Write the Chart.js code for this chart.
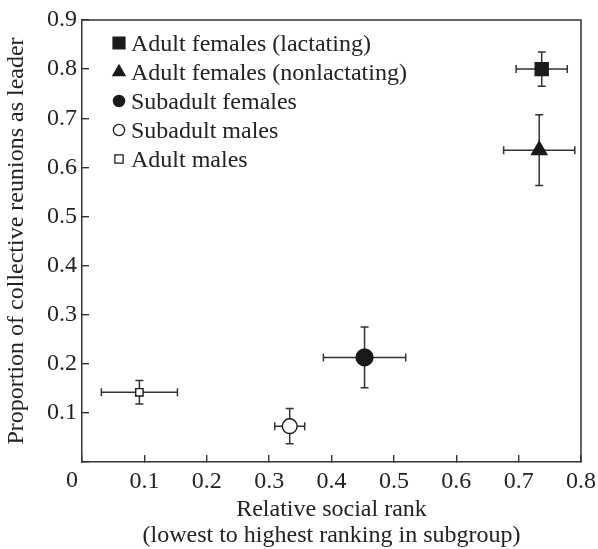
<!DOCTYPE html>
<html lang="en">
<head>
  <meta charset="UTF-8" />
  <title>Leadership vs social rank</title>
  <script src="https://cdn.jsdelivr.net/npm/chart.js"></script>
  <style>
    body {
      margin: 0;
      padding: 0;
      background: #ffffff;
    }
    canvas {
      display: block;
    }
  </style>
</head>
<body>
  <canvas id="rankChart" width="598" height="549"></canvas>

  <script>
    // one entry per subgroup: mean rank / mean proportion with error half-widths
    const groups = [
      'Adult females (lactating)',
      'Adult females (nonlactating)',
      'Subadult females',
      'Subadult males',
      'Adult males'
    ];
    const rankX = [0.737, 0.733, 0.453, 0.333, 0.092];
    const rankErr = [0.041, 0.057, 0.066, 0.024, 0.061];
    const leaderY = [0.800, 0.635, 0.213, 0.073, 0.142];
    const leaderErr = [0.035, 0.072, 0.062, 0.036, 0.024];

    const markerStyle = ['rect', 'triangle', 'circle', 'circle', 'rect'];
    const markerFill = ['#1a1a1a', '#1a1a1a', '#1a1a1a', '#ffffff', '#ffffff'];
    const markerRadius = [9.2, 8.8, 8.4, 7.4, 5.2];
    const legendRadius = [8.4, 7, 5.6, 5.6, 5.8];

    const FONT = "'Liberation Serif', 'DejaVu Serif', serif";
    const FONT_SIZE = 24;
    const INK = '#222222';
    const AXIS = '#333333';

    const datasets = groups.map((name, i) => ({
      label: name,
      data: [{ x: rankX[i], y: leaderY[i], xe: rankErr[i], ye: leaderErr[i] }],
      pointStyle: markerStyle[i],
      pointRadius: markerRadius[i],
      pointBackgroundColor: markerFill[i],
      pointBorderColor: '#1a1a1a',
      pointBorderWidth: 1.4
    }));

    // horizontal + vertical error bars with small caps, under the markers
    const errorBars = {
      id: 'errorBars',
      beforeDatasetsDraw(chart) {
        const { ctx, scales: { x, y } } = chart;
        const cap = 4;
        ctx.save();
        ctx.strokeStyle = AXIS;
        ctx.lineWidth = 1.5;
        chart.data.datasets.forEach(ds => {
          ds.data.forEach(p => {
            const cx = x.getPixelForValue(p.x);
            const cy = y.getPixelForValue(p.y);
            const x0 = x.getPixelForValue(p.x - p.xe);
            const x1 = x.getPixelForValue(p.x + p.xe);
            const y0 = y.getPixelForValue(p.y - p.ye);
            const y1 = y.getPixelForValue(p.y + p.ye);
            ctx.beginPath();
            ctx.moveTo(x0, cy); ctx.lineTo(x1, cy);
            ctx.moveTo(x0, cy - cap); ctx.lineTo(x0, cy + cap);
            ctx.moveTo(x1, cy - cap); ctx.lineTo(x1, cy + cap);
            ctx.moveTo(cx, y0); ctx.lineTo(cx, y1);
            ctx.moveTo(cx - cap, y0); ctx.lineTo(cx + cap, y0);
            ctx.moveTo(cx - cap, y1); ctx.lineTo(cx + cap, y1);
            ctx.stroke();
          });
        });
        ctx.restore();
      }
    };

    // closes the box on top and right, puts the origin "0" at the corner,
    // and draws the key inside the plot
    const frameAndKey = {
      id: 'frameAndKey',
      afterDraw(chart) {
        const { ctx, chartArea: a, scales: { x } } = chart;
        ctx.save();
        ctx.strokeStyle = AXIS;
        ctx.lineWidth = 1.5;
        ctx.beginPath();
        ctx.moveTo(a.left, a.top);
        ctx.lineTo(a.right, a.top);
        ctx.lineTo(a.right, a.bottom);
        ctx.stroke();

        ctx.font = FONT_SIZE + 'px ' + FONT;
        ctx.fillStyle = INK;
        ctx.textAlign = 'center';
        ctx.textBaseline = 'top';
        ctx.fillText('0', x.getPixelForValue(0) - 10, a.bottom + 7);

        ctx.textBaseline = 'alphabetic';
        ctx.textAlign = 'left';
        groups.forEach((name, i) => {
          const rowY = a.top + 23 + i * 29;
          ctx.fillStyle = markerFill[i];
          ctx.strokeStyle = '#1a1a1a';
          ctx.lineWidth = 1.3;
          Chart.helpers.drawPoint(ctx, {
            pointStyle: markerStyle[i],
            radius: legendRadius[i],
            borderWidth: 1.3,
            rotation: 0
          }, a.left + 37, rowY);
          ctx.fillStyle = INK;
          ctx.fillText(name, a.left + 49, rowY + 8);
        });
        ctx.restore();
      }
    };

    // fixed axis boxes, no extra room reserved for overhanging end labels
    const fixBox = (size) => (s) => {
      if (s.isHorizontal()) s.height = size; else s.width = size;
      s.paddingTop = 0; s.paddingBottom = 0;
      s.paddingLeft = 0; s.paddingRight = 0;
    };

    const ctx = document.getElementById('rankChart').getContext('2d');
    new Chart(ctx, {
      type: 'scatter',
      data: { datasets },
      plugins: [errorBars, frameAndKey],
      options: {
        responsive: false,
        animation: false,
        layout: { padding: { top: 20, right: 17, bottom: 0, left: 0 } },
        plugins: {
          legend: { display: false },
          tooltip: { enabled: false }
        },
        scales: {
          x: {
            type: 'linear',
            min: 0,
            max: 0.8,
            afterFit: fixBox(87),
            border: { display: true, color: AXIS, width: 1.5 },
            grid: { drawOnChartArea: false, drawTicks: true, tickLength: -7, color: AXIS, lineWidth: 1.4 },
            ticks: {
              stepSize: 0.1,
              padding: 12,
              color: INK,
              font: { family: FONT, size: FONT_SIZE },
              maxRotation: 0,
              callback: v => (v === 0 ? '' : v.toFixed(1))
            },
            title: {
              display: true,
              text: ['Relative social rank', '(lowest to highest ranking in subgroup)'],
              color: INK,
              font: { family: FONT, size: FONT_SIZE, lineHeight: 1.1 },
              padding: { top: 0, bottom: 0 }
            }
          },
          y: {
            type: 'linear',
            min: 0,
            max: 0.9,
            afterFit: fixBox(82),
            border: { display: true, color: AXIS, width: 1.5 },
            grid: { drawOnChartArea: false, drawTicks: true, tickLength: -7, color: AXIS, lineWidth: 1.4 },
            ticks: {
              stepSize: 0.1,
              padding: 12,
              color: INK,
              font: { family: FONT, size: FONT_SIZE },
              callback: v => (v === 0 ? '' : v.toFixed(1))
            },
            title: {
              display: true,
              text: 'Proportion of collective reunions as leader',
              color: INK,
              font: { family: FONT, size: FONT_SIZE },
              padding: { top: 2, bottom: 0 }
            }
          }
        }
      }
    });
  </script>
</body>
</html>
